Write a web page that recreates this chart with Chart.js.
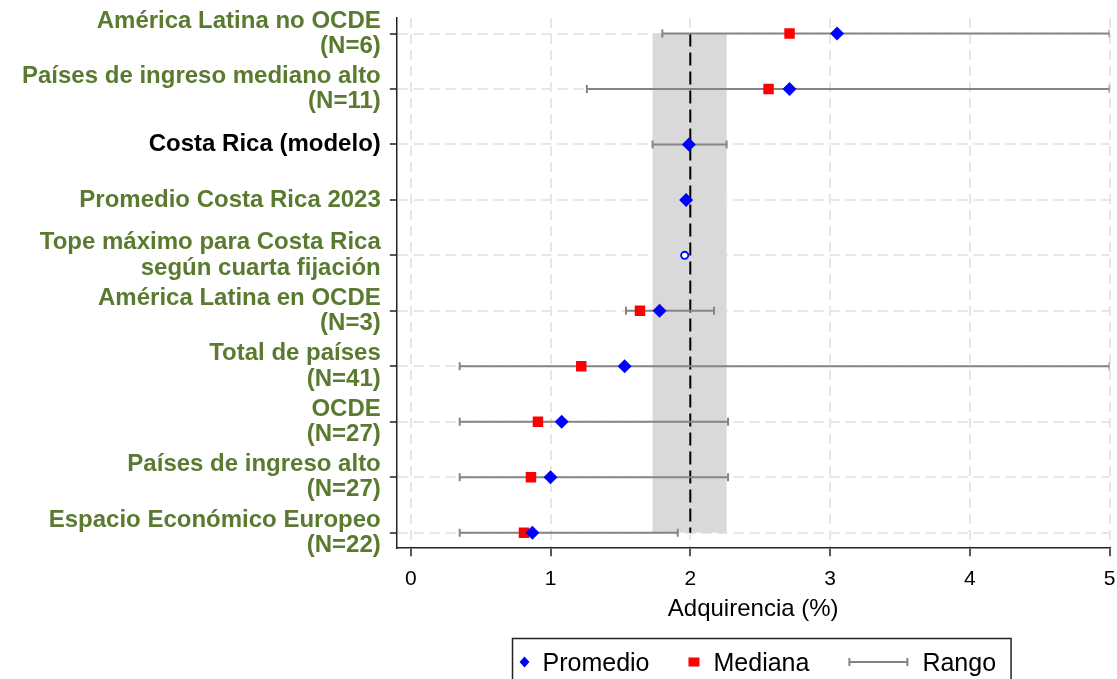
<!DOCTYPE html>
<html lang="es">
<head>
<meta charset="utf-8">
<title>Adquirencia (%)</title>
<script src="https://cdn.jsdelivr.net/npm/chart.js@4.4.1/dist/chart.umd.min.js"></script>
<style>
  html, body { margin: 0; padding: 0; background: #fff; }
  #grafico { display: block; }
</style>
</head>
<body>
<canvas id="grafico" width="1117" height="679"></canvas>
<script>
// Grupos de países (de arriba hacia abajo)
const categorias = [
  ['América Latina no OCDE', '(N=6)'],
  ['Países de ingreso mediano alto', '(N=11)'],
  'Costa Rica (modelo)',
  'Promedio Costa Rica 2023',
  ['Tope máximo para Costa Rica', 'según cuarta fijación'],
  ['América Latina en OCDE', '(N=3)'],
  ['Total de países', '(N=41)'],
  ['OCDE', '(N=27)'],
  ['Países de ingreso alto', '(N=27)'],
  ['Espacio Económico Europeo', '(N=22)']
];
const categoriaDestacada = 'Costa Rica (modelo)';

// Tasa de adquirencia (%)
const promedio   = [3.05, 2.71, 1.99, 1.97, null, 1.78, 1.53, 1.08, 1.00, 0.87];
const mediana    = [2.71, 2.56, null, null, null, 1.64, 1.22, 0.91, 0.86, 0.81];
const rangoMin   = [1.80, 1.26, 1.73, null, null, 1.54, 0.35, 0.35, 0.35, 0.35];
const rangoMax   = [5.00, 5.00, 2.26, null, null, 2.17, 5.00, 2.27, 2.27, 1.91];
const topeMaximo = [null, null, null, null, 1.96, null, null, null, null, null];

// Intervalo del modelo y línea de referencia
const banda = [1.73, 2.26];
const referencia = 2.0;

const ticksX = [0, 1, 2, 3, 4, 5];

const FUENTE = "'Liberation Sans', Arial, Helvetica, sans-serif";
const VERDE = '#5a7a2f';
const AZUL = '#0000ff';
const ROJO = '#ff0000';
const GRIS = '#858585';
const GRID = '#e6e6e6';
const EJE = '#222222';

const puntos = (valores) => valores
  .map((v, i) => (v === null ? null : { x: v, y: i }))
  .filter(p => p !== null);

// Segmentos de rango separados por huecos
const segmentosRango = [];
rangoMin.forEach((lo, i) => {
  if (lo === null || rangoMax[i] === null) return;
  segmentosRango.push({ x: lo, y: i }, { x: rangoMax[i], y: i }, { x: null, y: null });
});

// Banda sombreada y línea discontinua de referencia
const bandaReferencia = {
  id: 'bandaReferencia',
  beforeDatasetsDraw(chart) {
    const { ctx, scales: { x, y } } = chart;
    const x0 = x.getPixelForValue(banda[0]);
    const x1 = x.getPixelForValue(banda[1]);
    const yTop = y.getPixelForValue(0);
    const yBot = y.getPixelForValue(categorias.length - 1);
    ctx.save();
    ctx.fillStyle = '#d9d9d9';
    ctx.fillRect(x0, yTop, x1 - x0, yBot - yTop);
    const xr = x.getPixelForValue(referencia);
    ctx.strokeStyle = '#000';
    ctx.lineWidth = 2;
    ctx.setLineDash([13, 6]);
    ctx.beginPath();
    ctx.moveTo(xr, yTop);
    ctx.lineTo(xr, yBot);
    ctx.stroke();
    ctx.restore();
  }
};

// Leyenda enmarcada bajo el eje X
const leyenda = {
  id: 'leyendaMarco',
  afterDraw(chart) {
    const { ctx, chartArea } = chart;
    ctx.save();
    ctx.font = '25px ' + FUENTE;
    const elementos = [
      { tipo: 'rombo', texto: 'Promedio', ancho: 10, sep: 13 },
      { tipo: 'cuadro', texto: 'Mediana', ancho: 11, sep: 14 },
      { tipo: 'rango', texto: 'Rango', ancho: 60, sep: 14 }
    ];
    const padIzq = 7, padDer = 15, entre = 39;
    let total = padIzq + padDer;
    elementos.forEach((e, i) => {
      e.tw = ctx.measureText(e.texto).width;
      total += e.ancho + e.sep + e.tw + (i ? entre : 0);
    });
    const cx = (chartArea.left + chartArea.right) / 2 + 8;
    const left = Math.round(cx - total / 2) + 0.5;
    const top = 638.5;
    const yc = 662;
    ctx.strokeStyle = EJE;
    ctx.lineWidth = 1.5;
    ctx.strokeRect(left, top, total, 60);

    let xpos = left + padIzq;
    elementos.forEach((e, i) => {
      if (i) xpos += entre;
      if (e.tipo === 'rombo') {
        const c = xpos + e.ancho / 2;
        ctx.fillStyle = AZUL;
        ctx.beginPath();
        ctx.moveTo(c, yc - 5.5);
        ctx.lineTo(c + 5, yc);
        ctx.lineTo(c, yc + 5.5);
        ctx.lineTo(c - 5, yc);
        ctx.closePath();
        ctx.fill();
      } else if (e.tipo === 'cuadro') {
        ctx.fillStyle = ROJO;
        ctx.fillRect(xpos, yc - 4.5, e.ancho, 9);
      } else {
        ctx.strokeStyle = GRIS;
        ctx.lineWidth = 2;
        ctx.beginPath();
        ctx.moveTo(xpos, yc);
        ctx.lineTo(xpos + e.ancho, yc);
        ctx.moveTo(xpos + 1, yc - 4);
        ctx.lineTo(xpos + 1, yc + 4);
        ctx.moveTo(xpos + e.ancho - 1, yc - 4);
        ctx.lineTo(xpos + e.ancho - 1, yc + 4);
        ctx.stroke();
      }
      xpos += e.ancho + e.sep;
      ctx.fillStyle = '#000';
      ctx.textBaseline = 'alphabetic';
      ctx.textAlign = 'left';
      ctx.fillText(e.texto, xpos, 671);
      xpos += e.tw;
    });
    ctx.restore();
  }
};

new Chart(document.getElementById('grafico'), {
  type: 'scatter',
  data: {
    datasets: [
      {
        label: 'Promedio',
        data: puntos(promedio),
        pointStyle: 'rectRot',
        pointRadius: 7,
        backgroundColor: AZUL,
        borderColor: AZUL,
        borderWidth: 0,
        order: 1
      },
      {
        label: 'Tope máximo',
        data: puntos(topeMaximo),
        pointStyle: 'circle',
        pointRadius: 3.6,
        backgroundColor: '#ffffff',
        borderColor: AZUL,
        borderWidth: 1.8,
        order: 1
      },
      {
        label: 'Mediana',
        data: puntos(mediana),
        pointStyle: 'rect',
        pointRadius: 7.4,
        backgroundColor: ROJO,
        borderColor: ROJO,
        borderWidth: 0,
        order: 2
      },
      {
        label: 'Rango',
        type: 'line',
        data: segmentosRango,
        showLine: true,
        spanGaps: false,
        borderColor: GRIS,
        borderWidth: 2,
        pointStyle: 'line',
        pointRotation: 90,
        pointRadius: 4,
        pointBorderColor: GRIS,
        pointBorderWidth: 2,
        order: 3
      }
    ]
  },
  options: {
    responsive: false,
    animation: false,
    events: [],
    devicePixelRatio: 1,
    layout: { padding: { top: 18, right: 7, bottom: 55, left: 13 } },
    plugins: {
      legend: { display: false },
      tooltip: { enabled: false }
    },
    scales: {
      x: {
        type: 'linear',
        min: -0.1,
        max: 5,
        afterBuildTicks: (s) => { s.ticks = ticksX.map(v => ({ value: v })); },
        afterFit: (s) => { s.paddingLeft = 0; s.paddingRight = 0; },
        grid: {
          color: GRID,
          lineWidth: 2,
          tickLength: 8,
          tickColor: EJE,
          tickWidth: 1.5,
          tickBorderDash: []
        },
        border: { display: true, color: EJE, width: 1.5, dash: [10, 6] },
        ticks: {
          autoSkip: false,
          maxRotation: 0,
          padding: 13,
          color: '#000',
          font: { family: FUENTE, size: 21, lineHeight: 1.0 },
          callback: (v) => String(v)
        },
        title: {
          display: true,
          text: 'Adquirencia (%)',
          color: '#000',
          font: { family: FUENTE, size: 24 },
          padding: { top: -8, bottom: 0 }
        }
      },
      y: {
        type: 'linear',
        reverse: true,
        min: -0.28,
        max: 9.28,
        afterBuildTicks: (s) => { s.ticks = categorias.map((_, i) => ({ value: i })); },
        afterFit: (s) => { s.paddingTop = 0; s.paddingBottom = 0; },
        grid: {
          color: GRID,
          lineWidth: 2,
          tickLength: 7,
          tickColor: EJE,
          tickWidth: 1.5,
          tickBorderDash: []
        },
        border: { display: true, color: EJE, width: 1.5, dash: [10, 6] },
        ticks: {
          autoSkip: false,
          padding: 9,
          font: { family: FUENTE, size: 24, weight: 'bold', lineHeight: 1.05 },
          color: (c) => (categorias[c.tick ? c.tick.value : c.index] === categoriaDestacada ? '#000' : VERDE),
          callback: (v) => categorias[v]
        }
      }
    }
  },
  plugins: [bandaReferencia, leyenda]
});
</script>
</body>
</html>
